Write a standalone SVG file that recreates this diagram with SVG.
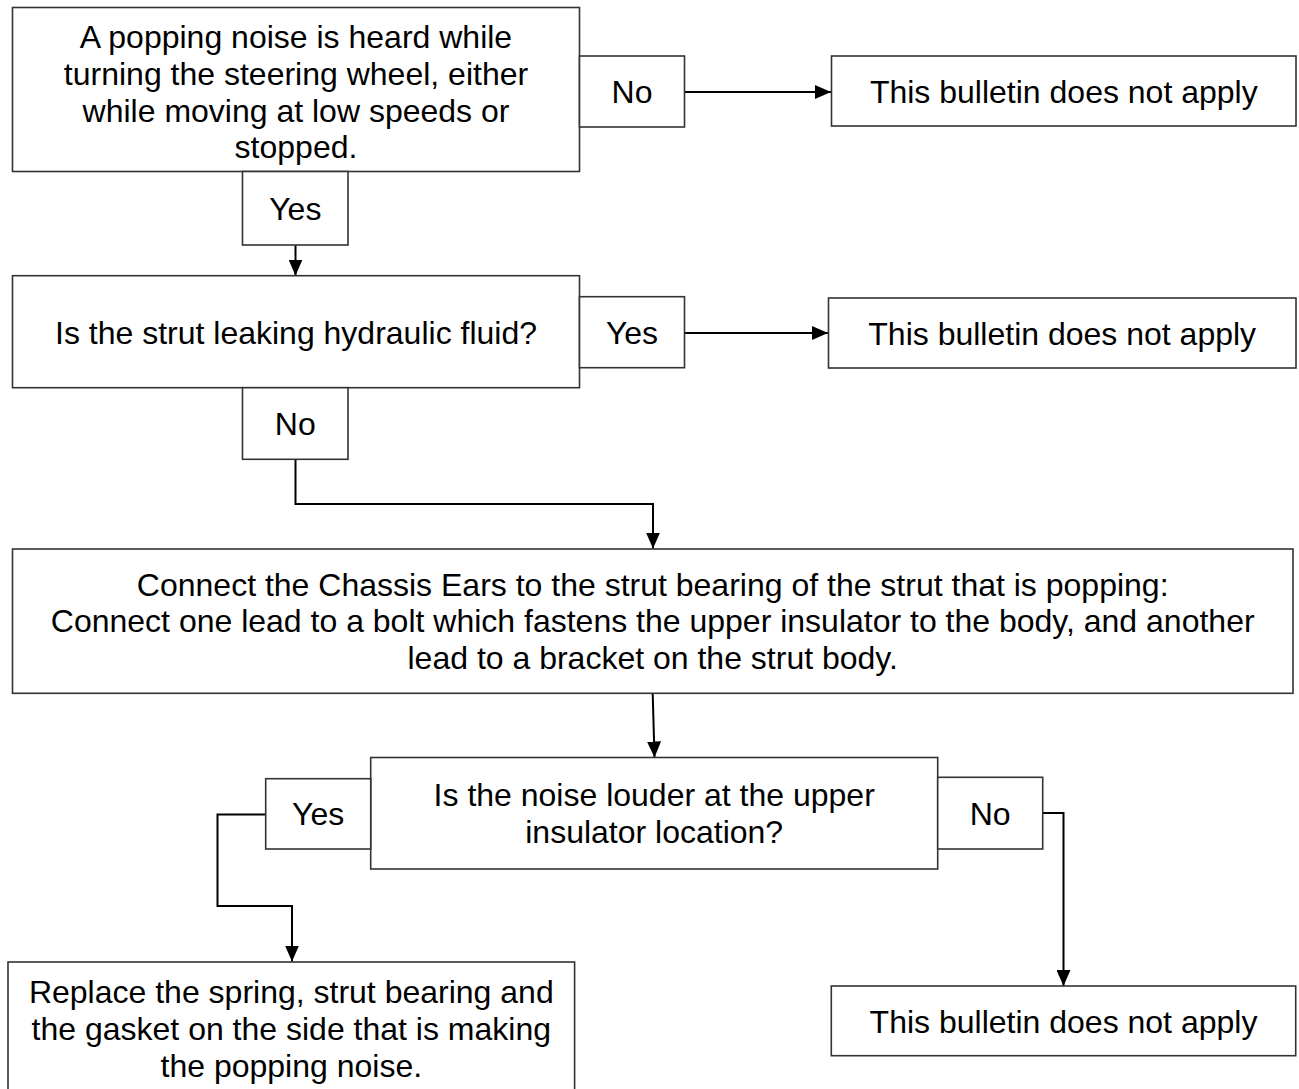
<svg xmlns="http://www.w3.org/2000/svg" width="1299" height="1089" viewBox="0 0 1299 1089">
<style>
  .box { fill: #ffffff; stroke: #333333; stroke-width: 1.6; }
  .t { font-family: "Liberation Sans", Arial, sans-serif; font-size: 32px; fill: #000000; text-anchor: middle; }
  .c { fill: none; stroke: #000000; stroke-width: 2; }
</style>
<defs>
  <marker id="ah" viewBox="0 0 16 14" refX="16" refY="7" markerWidth="16" markerHeight="14" markerUnits="userSpaceOnUse" orient="auto">
    <path d="M0,0 L16,7 L0,14 Z" fill="#000000"/>
  </marker>
</defs>
<rect width="1299" height="1089" fill="#ffffff"/>

<g id="connectors">
  <line class="c" x1="684" y1="92" x2="831" y2="92" marker-end="url(#ah)"/>
  <line class="c" x1="295.5" y1="245" x2="295.5" y2="275.5" marker-end="url(#ah)"/>
  <line class="c" x1="684" y1="333" x2="828" y2="333" marker-end="url(#ah)"/>
  <polyline class="c" points="295.5,459 295.5,504 653,504 653,548.5" marker-end="url(#ah)"/>
  <line class="c" x1="652.7" y1="693.5" x2="654.5" y2="757.5" marker-end="url(#ah)"/>
  <polyline class="c" points="265.7,814.5 217.5,814.5 217.5,906 292,906 292,961.5" marker-end="url(#ah)"/>
  <polyline class="c" points="1042.7,813 1063.5,813 1063.5,986" marker-end="url(#ah)"/>
</g>

<g id="n1">
  <rect class="box" x="12.5" y="7.5" width="567" height="164"/>
  <text class="t" x="296" y="48">A popping noise is heard while</text>
  <text class="t" x="296" y="85">turning the steering wheel, either</text>
  <text class="t" x="296" y="121.5">while moving at low speeds or</text>
  <text class="t" x="296" y="158">stopped.</text>
</g>
<g id="l1-no">
  <rect class="box" x="579.5" y="56" width="105" height="71"/>
  <text class="t" x="632" y="103">No</text>
</g>
<g id="n2">
  <rect class="box" x="831.5" y="56" width="464.5" height="70"/>
  <text class="t" x="1063.8" y="103">This bulletin does not apply</text>
</g>
<g id="l1-yes">
  <rect class="box" x="242.5" y="171.5" width="105.5" height="73.5"/>
  <text class="t" x="295.3" y="220">Yes</text>
</g>
<g id="n3">
  <rect class="box" x="12.5" y="275.7" width="567" height="112"/>
  <text class="t" x="296" y="343.5">Is the strut leaking hydraulic fluid?</text>
</g>
<g id="l2-yes">
  <rect class="box" x="579.5" y="296.7" width="105" height="71"/>
  <text class="t" x="632" y="344">Yes</text>
</g>
<g id="n4">
  <rect class="box" x="828.5" y="298" width="467.5" height="70"/>
  <text class="t" x="1062.2" y="344.5">This bulletin does not apply</text>
</g>
<g id="l2-no">
  <rect class="box" x="242.5" y="387.7" width="105.5" height="71.6"/>
  <text class="t" x="295.3" y="435">No</text>
</g>
<g id="n5">
  <rect class="box" x="12.5" y="549" width="1280.5" height="144.3"/>
  <text class="t" x="652.7" y="595.5">Connect the Chassis Ears to the strut bearing of the strut that is popping:</text>
  <text class="t" x="652.7" y="632.3">Connect one lead to a bolt which fastens the upper insulator to the body, and another</text>
  <text class="t" x="652.7" y="669.1">lead to a bracket on the strut body.</text>
</g>
<g id="n6">
  <rect class="box" x="370.7" y="757.5" width="567" height="111.5"/>
  <text class="t" x="654.2" y="806">Is the noise louder at the upper</text>
  <text class="t" x="654.2" y="842.8">insulator location?</text>
</g>
<g id="l3-yes">
  <rect class="box" x="265.7" y="778.7" width="105" height="70.3"/>
  <text class="t" x="318.2" y="825.3">Yes</text>
</g>
<g id="l3-no">
  <rect class="box" x="937.7" y="777.3" width="105" height="71.7"/>
  <text class="t" x="990.2" y="824.5">No</text>
</g>
<g id="n7">
  <rect class="box" x="8" y="962" width="566.6" height="140"/>
  <text class="t" x="291.3" y="1003">Replace the spring, strut bearing and</text>
  <text class="t" x="291.3" y="1039.8">the gasket on the side that is making</text>
  <text class="t" x="291.3" y="1076.6">the popping noise.</text>
</g>
<g id="n8">
  <rect class="box" x="831.3" y="986" width="464.4" height="69.7"/>
  <text class="t" x="1063.5" y="1032.5">This bulletin does not apply</text>
</g>
</svg>
